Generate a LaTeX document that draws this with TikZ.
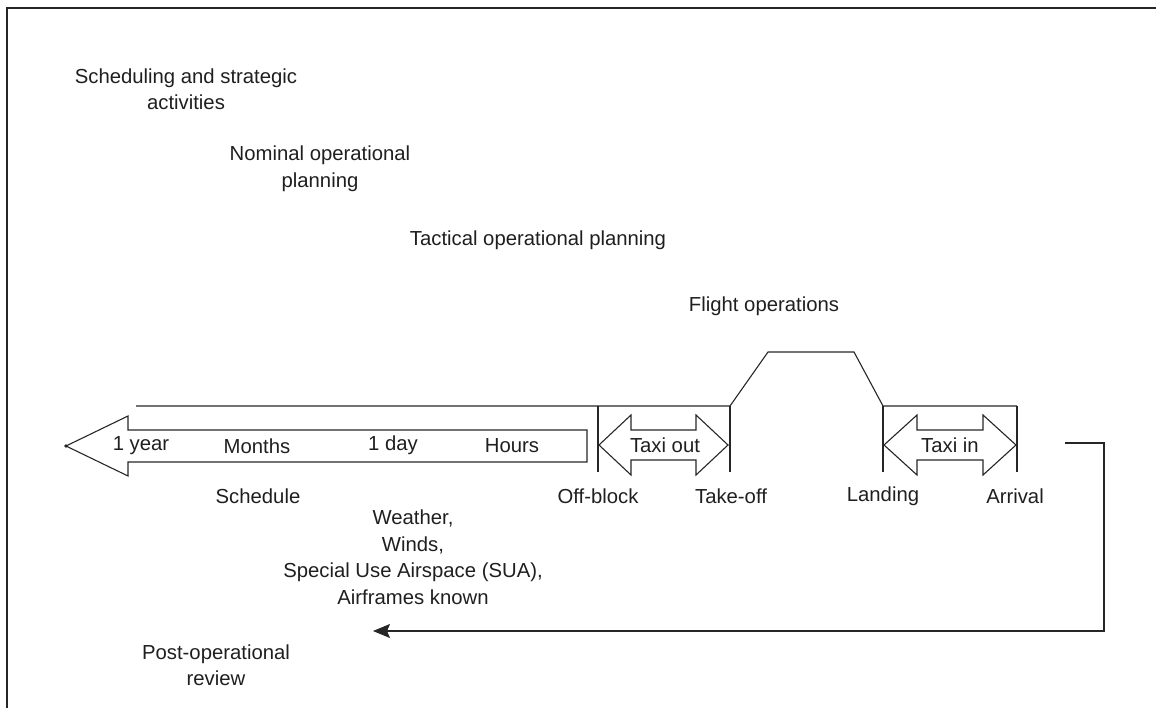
\documentclass[tikz,border=0pt]{standalone}
\usepackage{fontspec}
\setmainfont{Liberation Sans}
\usetikzlibrary{arrows.meta}
\begin{document}
\begin{tikzpicture}[x=1pt,y=-1pt,line width=1.1pt,line join=miter,
  lbl/.style={font=\fontsize{20.3}{26.5}\selectfont,inner sep=0pt,align=center,text=black!88},
  outline/.style={draw=black!85,line width=1.1pt},
  frameline/.style={draw=black!85,line width=1.6pt},
  flow/.style={draw=black!85,line width=1.1pt,-{Stealth[length=17pt,width=14pt,inset=3pt]}}]
\useasboundingbox (0,0) rectangle (1156,708);

% open frame: top and left edges only
\draw[frameline] (7,708) -- (7,8) -- (1156,8);

% phase headings
\node[lbl] (sched) at (186,89) {Scheduling and strategic\\activities};
\node[lbl] (nominal) at (320,169) {Nominal operational\\planning};
\node[lbl] (tactical) at (538,240) {Tactical operational planning};
\node[lbl] (flight) at (764,306) {Flight operations};

% flight profile: ground line, climb, cruise, descent
\draw[outline] (136,406) -- (730,406) -- (768,352) -- (854,352) -- (883,406) -- (1017,406);

% event markers
\foreach \xx in {598,730,883,1017}
  \draw[outline] (\xx,406) -- (\xx,472);

% planning horizon arrow
\draw[outline] (66,446) -- (128,416) -- (128,430) -- (587,430) -- (587,462)
  -- (128,462) -- (128,476) -- cycle;
\fill[black!85] (66,446) circle (1.8);
\node[lbl] (year) at (141,446) {1 year};
\node[lbl] (months) at (257,446) {Months};
\node[lbl] (day) at (393,445) {1 day};
\node[lbl] (hours) at (512,446) {Hours};

% taxi out double arrow
\draw[outline] (599,445) -- (631,415) -- (631,430) -- (696,430) -- (696,415)
  -- (728,445) -- (696,475) -- (696,460) -- (631,460) -- (631,475) -- cycle;
\node[lbl] (taxiout) at (665,445) {Taxi out};

% taxi in double arrow
\draw[outline] (884,445) -- (917,415) -- (917,430) -- (983,430) -- (983,415)
  -- (1016,445) -- (983,475) -- (983,460) -- (917,460) -- (917,475) -- cycle;
\node[lbl] (taxiin) at (950,445) {Taxi in};

% milestone labels
\node[lbl] (schedule) at (258,496) {Schedule};
\node[lbl] (offblock) at (598,496) {Off-block};
\node[lbl] (takeoff) at (731,496) {Take-off};
\node[lbl] (landing) at (883,496) {Landing};
\node[lbl] (arrival) at (1015,496) {Arrival};

\node[lbl] (known) at (413,557) {Weather,\\Winds,\\Special Use Airspace (SUA),\\Airframes known};

\node[lbl] (review) at (216,665) {Post-operational\\review};

% feedback loop to post-operational review
\coordinate (loopstart) at (1065,443);
\coordinate (loopend) at (373,631);
\draw[flow] (loopstart) -| (1104,631) -- (loopend);
\end{tikzpicture}
\end{document}
